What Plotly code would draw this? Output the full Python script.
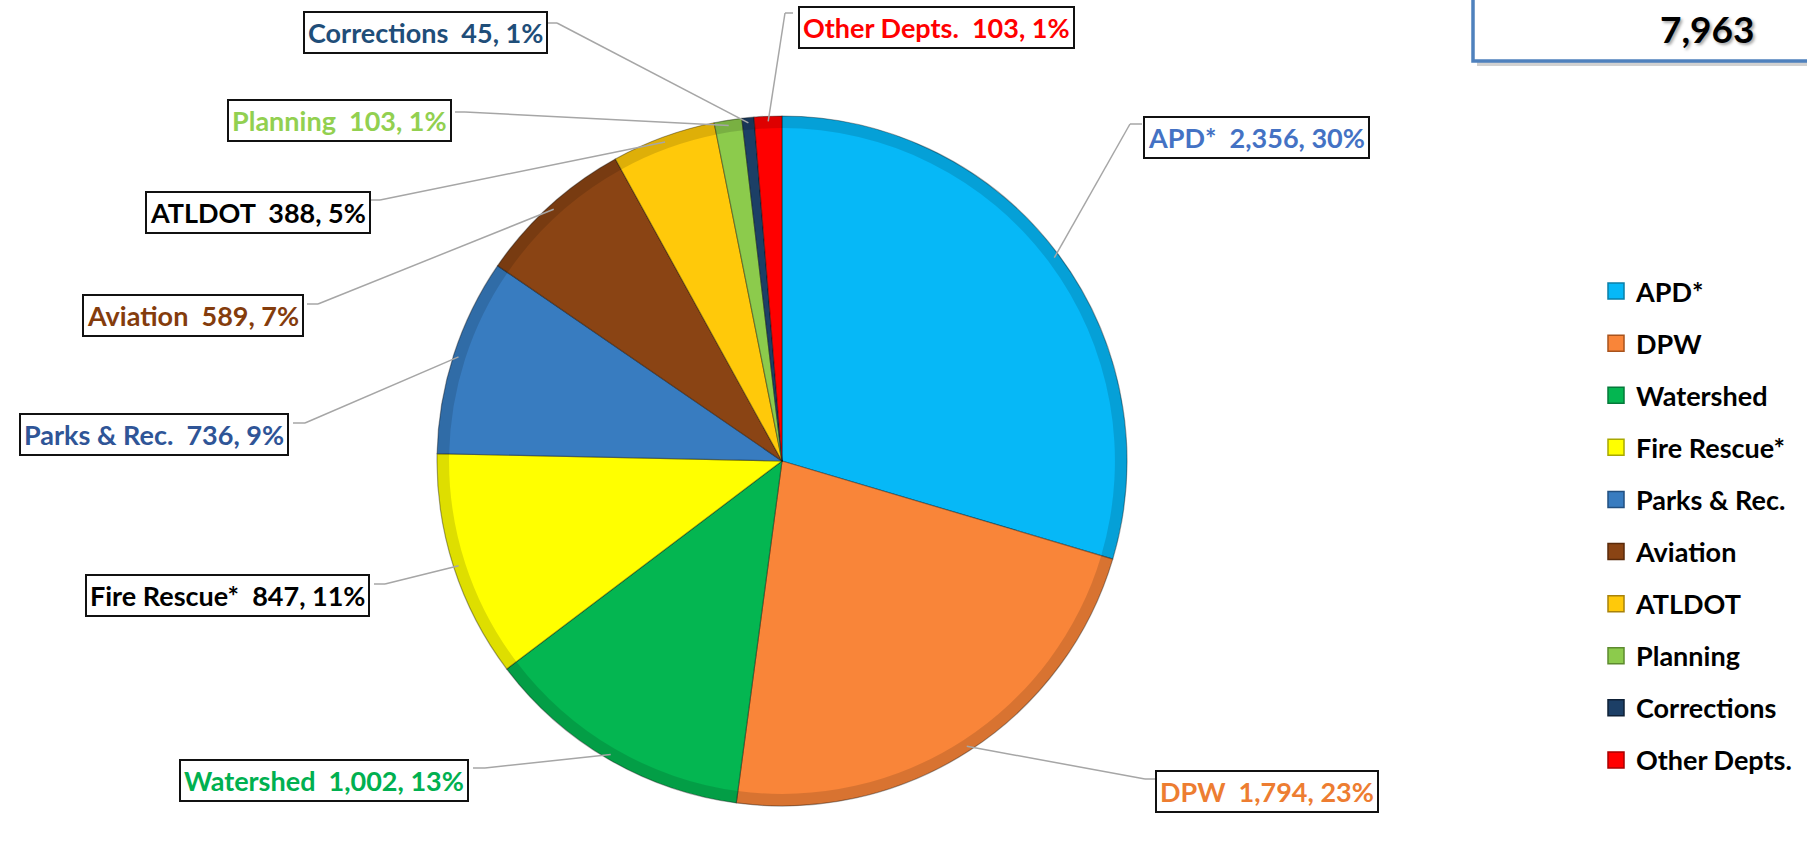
import math
import plotly.graph_objects as go

# ---------------- data ----------------
departments = ["APD*", "DPW", "Watershed", "Fire Rescue*", "Parks & Rec.",
               "Aviation", "ATLDOT", "Planning", "Corrections", "Other Depts."]
employees = [2356, 1794, 1002, 847, 736, 589, 388, 103, 45, 103]
total_label = "7,963"

# ---------------- styles ----------------
slice_colors = ["#06B8F7", "#F98539", "#04B651", "#FFFF00", "#387CC0",
                "#8A4414", "#FFC90A", "#8CCB4C", "#1C3F66", "#FF0000"]
legend_edge = ["#0A7FA8", "#A8531C", "#04793A", "#A8A800", "#214F80",
               "#5A2A0A", "#A8820A", "#5C8A2E", "#0E2036", "#A80000"]
label_colors = ["#4472C4", "#ED7D31", "#00B050", "#000000", "#2F5597",
                "#843C0C", "#000000", "#92D050", "#1F4E79", "#FF0000"]

W, H = 1807, 843
FONT = "Lato"
FS = 27

# pie geometry (pixels)
CX, CY, R = 782, 461, 345

def px(x):
    return x / W

def py(y):
    return 1 - y / H

# label box centers and leader attach points (pixels): (cx, cy, attach_x, attach_y, stub_x)
label_layout = [
    (1256, 137, 1142, 124, 1130),
    (1267, 791, 1156, 779, 1145),
    (324, 780, 473, 768, 485),
    (227, 595, 374, 584, 385),
    (154, 434, 293, 423, 305),
    (193, 315, 307, 304, 318),
    (258, 213, 369, 200, 380),
    (339, 121, 455, 112, 465),
    (425, 33, 547, 23, 557),
    (937, 27, 793, 13, 785),
]

pie_domain = dict(x=[px(CX - R), px(CX + R)], y=[py(CY + R), py(CY - R)])

fig = go.Figure()
fig.add_trace(go.Pie(
    labels=departments, values=employees, sort=False, direction="clockwise",
    rotation=0, textinfo="none", showlegend=False,
    marker=dict(colors=slice_colors, line=dict(color="rgba(0,0,0,0.35)", width=1.2)),
    domain=pie_domain,
    hoverinfo="label+value+percent",
))
# subtle darker rim to suggest the bevelled edge
fig.add_trace(go.Pie(
    labels=departments, values=employees, sort=False, direction="clockwise",
    rotation=0, textinfo="none", showlegend=False, hole=0.965,
    marker=dict(colors=["rgba(0,0,0,0.13)"] * len(employees), line=dict(width=0)),
    domain=pie_domain, hoverinfo="skip",
))

# legend entries (one per department, spaced as groups)
for name, c, e in zip(departments, slice_colors, legend_edge):
    fig.add_trace(go.Scatter(
        x=[None], y=[None], mode="markers", name=name, legendgroup=name,
        marker=dict(symbol="square", size=16, color=c, line=dict(color=e, width=1.5)),
    ))

total = sum(employees)
shapes = []
annotations = []
cum = 0
for i, (name, v) in enumerate(zip(departments, employees)):
    mid = (cum + v / 2) / total
    cum += v
    th = 2 * math.pi * mid
    ex = CX + R * 0.985 * math.sin(th)
    ey = CY - R * 0.985 * math.cos(th)
    lcx, lcy, ax_, ay_, sx = label_layout[i]
    line = dict(color="#A6A6A6", width=1.5)
    shapes.append(dict(type="line", xref="paper", yref="paper",
                       x0=px(ax_), y0=py(ay_), x1=px(sx), y1=py(ay_), line=line))
    shapes.append(dict(type="line", xref="paper", yref="paper",
                       x0=px(sx), y0=py(ay_), x1=px(ex), y1=py(ey), line=line))
    pct = round(100 * v / total)
    txt = f"{name}\u00a0\u00a0{v:,}, {pct}%"
    annotations.append(dict(
        x=px(lcx), y=py(lcy), xref="paper", yref="paper", text=txt, showarrow=False,
        xanchor="center", yanchor="middle",
        font=dict(family=FONT, size=FS, color=label_colors[i], weight="bold"),
        bgcolor="white", bordercolor="#111111", borderwidth=2, borderpad=3,
    ))

# total box (top right, partially cut off)
shapes.append(dict(type="rect", xref="paper", yref="paper",
                   x0=px(1477), x1=1.02, y0=py(66), y1=1.05,
                   fillcolor="rgba(0,0,0,0.18)", line=dict(width=0), layer="above"))
shapes.append(dict(type="rect", xref="paper", yref="paper",
                   x0=px(1473), x1=1.02, y0=py(61), y1=1.05,
                   fillcolor="white", line=dict(color="#4F81BD", width=3.5), layer="above"))
annotations.append(dict(
    x=px(1707), y=py(28), xref="paper", yref="paper", text=total_label, showarrow=False,
    xanchor="center", yanchor="middle",
    font=dict(family=FONT, size=37, color="black", weight="bold",
              shadow="2px 2px 3px rgba(0,0,0,0.35)"),
))

fig.update_layout(
    width=W, height=H,
    margin=dict(l=0, r=0, t=0, b=0),
    paper_bgcolor="white", plot_bgcolor="white",
    xaxis=dict(visible=False), yaxis=dict(visible=False),
    shapes=shapes, annotations=annotations,
    showlegend=True,
    legend=dict(
        x=px(1596), y=py(267), xanchor="left", yanchor="top",
        font=dict(family=FONT, size=FS, color="black", weight="bold"),
        tracegroupgap=14, bgcolor="rgba(0,0,0,0)", itemsizing="trace",
    ),
)

fig.write_html("out.html", config={"displayModeBar": False},
               post_script="document.body.style.margin='0';document.body.style.overflow='hidden';")
